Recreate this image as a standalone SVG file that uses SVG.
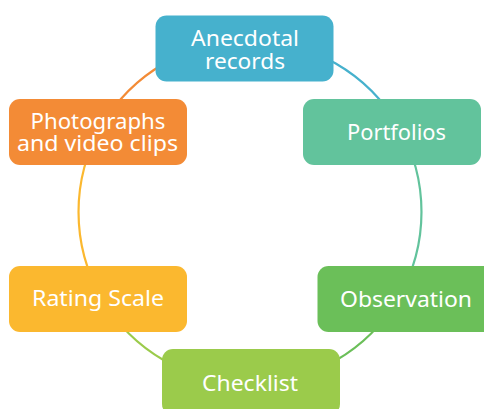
<svg xmlns="http://www.w3.org/2000/svg" width="484" height="409" viewBox="0 0 484 409">
<style>
.arc{fill:none;stroke-width:2.2}
.lbl{font-family:"Noto Sans","Liberation Sans",sans-serif;font-size:21.5px;fill:#ffffff;text-anchor:middle}
</style>
<rect width="484" height="409" fill="#ffffff"/>
<g id="connectors">
<path class="arc" stroke="#46B1CD" d="M250,40.5 A171.5,171.5 0 0 1 398.5,126.25"/>
<path class="arc" stroke="#62C39C" d="M398.5,126.25 A171.5,171.5 0 0 1 398.5,297.75"/>
<path class="arc" stroke="#6BBF59" d="M398.5,297.75 A171.5,171.5 0 0 1 250,383.5"/>
<path class="arc" stroke="#9BCB4B" d="M250,383.5 A171.5,171.5 0 0 1 101.5,297.75"/>
<path class="arc" stroke="#FBB82F" d="M101.5,297.75 A171.5,171.5 0 0 1 101.5,126.25"/>
<path class="arc" stroke="#F38B36" d="M101.5,126.25 A171.5,171.5 0 0 1 250,40.5"/>
</g>
<g id="node-anecdotal">
<rect x="155.5" y="15.5" width="178" height="66" rx="11" fill="#46B1CD"/>
<text class="lbl" x="245" y="45.5" textLength="108" lengthAdjust="spacingAndGlyphs">Anecdotal</text>
<text class="lbl" x="245" y="68.5" textLength="80" lengthAdjust="spacingAndGlyphs">records</text>
</g>
<g id="node-portfolios">
<rect x="303" y="99" width="178" height="66" rx="11" fill="#62C39C"/>
<text class="lbl" x="396.5" y="139.5" textLength="99" lengthAdjust="spacingAndGlyphs">Portfolios</text>
</g>
<g id="node-observation">
<rect x="317.5" y="266" width="178" height="66" rx="11" fill="#6BBF59"/>
<text class="lbl" x="406" y="306.5" textLength="132" lengthAdjust="spacingAndGlyphs">Observation</text>
</g>
<g id="node-checklist">
<rect x="162" y="349" width="178" height="66" rx="11" fill="#9BCB4B"/>
<text class="lbl" x="250" y="390.5" textLength="96" lengthAdjust="spacingAndGlyphs">Checklist</text>
</g>
<g id="node-rating">
<rect x="9" y="266" width="178" height="66" rx="11" fill="#FBB82F"/>
<text class="lbl" x="98" y="306" textLength="132" lengthAdjust="spacingAndGlyphs">Rating Scale</text>
</g>
<g id="node-photographs">
<rect x="9" y="99" width="178" height="66" rx="11" fill="#F38B36"/>
<text class="lbl" x="98" y="128.5" textLength="135" lengthAdjust="spacingAndGlyphs">Photographs</text>
<text class="lbl" x="97.5" y="150.5" textLength="161" lengthAdjust="spacingAndGlyphs">and video clips</text>
</g>
</svg>
